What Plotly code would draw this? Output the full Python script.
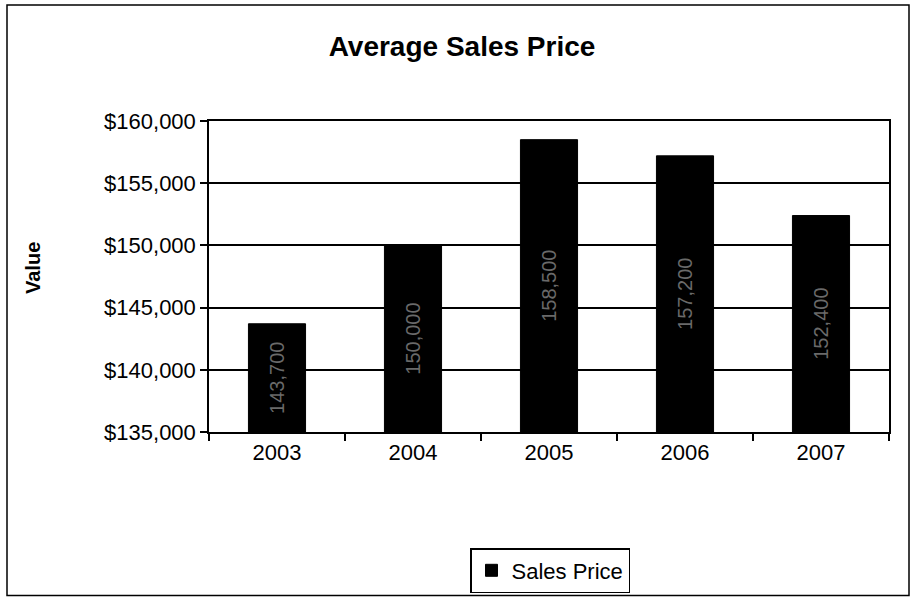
import plotly.graph_objects as go

years = ["2003", "2004", "2005", "2006", "2007"]
prices = [143700, 150000, 158500, 157200, 152400]
series_name = "Sales Price"
y_min, y_max, y_step = 135000, 160000, 5000

W, H = 913, 597
L, R, T, B = 209, 24, 121, 165
pw, ph = W - L - R, H - T - B
FONT = "Liberation Sans"

def px(x):
    return (x - L) / pw

def py(y):
    return (H - B - y) / ph

fig = go.Figure()
fig.add_trace(go.Bar(
    x=years, y=prices, name=series_name,
    marker=dict(color="#000000", line=dict(color="#000000", width=1)),
    showlegend=True,
))

# value labels, rotated, centred in the visible part of each bar
value_labels = [dict(text=f"{v:,.0f}", x=i, y=(v + y_min) / 2, xref="x", yref="y",
                     textangle=-90, showarrow=False, xanchor="center", yanchor="middle",
                     font=dict(family=FONT, size=20, color="#6a6a6a"))
                for i, v in enumerate(prices)]

fig.update_layout(
    width=W, height=H,
    margin=dict(l=L, r=R, t=T, b=B, autoexpand=False),
    paper_bgcolor="white", plot_bgcolor="white",
    bargap=0.58,
    font=dict(family=FONT, color="black"),
    title=dict(text="<b>Average Sales Price</b>", x=px(462), xref="paper", xanchor="center",
               y=1 - 46 / H, yanchor="middle", font=dict(size=28)),
    xaxis=dict(type="category", showline=True, linecolor="black", linewidth=1.5, mirror=True,
               ticks="outside", tickson="boundaries", ticklen=7, tickcolor="black", tickwidth=1.5,
               tickfont=dict(size=22), showgrid=False),
    yaxis=dict(range=[y_min, y_max], dtick=y_step, tickformat="$,.0f",
               showline=True, linecolor="black", linewidth=1.5, mirror=True,
               ticks="outside", ticklen=7, tickcolor="black", tickwidth=1.5,
               showgrid=True, gridcolor="black", gridwidth=1.5,
               tickfont=dict(size=22)),
    legend=dict(x=px(550), y=py(548), xanchor="center", yanchor="top",
                bordercolor="black", borderwidth=1.5, bgcolor="white",
                font=dict(size=22), itemwidth=30),
    annotations=value_labels + [
        dict(text="<b>Value</b>", textangle=-90, xref="paper", yref="paper",
             x=px(33), y=py(268), xanchor="center", yanchor="middle",
             showarrow=False, font=dict(size=20))],
    shapes=[dict(type="rect", xref="paper", yref="paper",
                 x0=px(7), x1=px(909), y0=py(595.5), y1=py(5),
                 line=dict(color="black", width=1.5))],
)

fig.write_html("out.html", config={"displayModeBar": False},
               post_script="document.body.style.margin='0';document.body.style.overflow='hidden';")
